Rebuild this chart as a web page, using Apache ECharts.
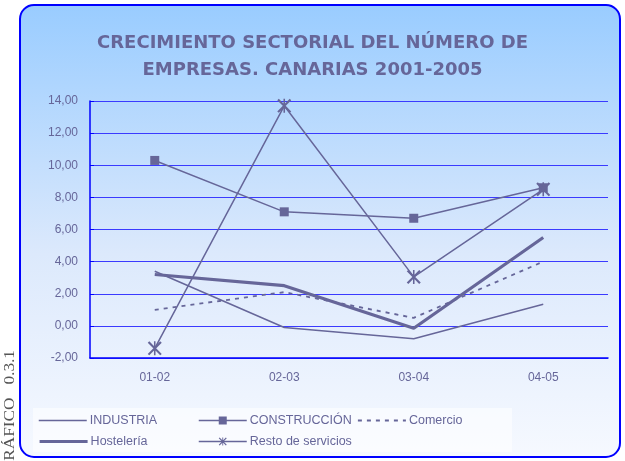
<!DOCTYPE html>
<html>
<head>
<meta charset="utf-8">
<script src="https://cdn.jsdelivr.net/npm/echarts@6/dist/echarts.min.js"></script>
<style>
  html, body { margin: 0; padding: 0; background: #fff; }
  #chart { width: 625px; height: 461px; }
</style>
</head>
<body>
<div id="chart"></div>
<script>
// datos del gráfico
const periodos = ['01-02', '02-03', '03-04', '04-05']
const industria = [3.4, -0.1, -0.8, 1.35]
const construccion = [10.3, 7.1, 6.7, 8.6]
const comercio = [1.0, 2.1, 0.5, 4.0]
const hosteleria = [3.2, 2.5, -0.15, 5.5]
const resto = [-1.4, 13.7, 3.05, 8.5]

const tinta = '#666699'
const azul = '#0000ff'
const asterisco = 'path://M9,0 L11,0 L11,20 L9,20 Z M1,2 L3,0 L19,18 L17,20 Z M17,0 L19,2 L3,20 L1,18 Z'

const chart = echarts.init(document.getElementById('chart'))

// una leyenda por elemento para poder colocarlas en columnas
// sinMarca: la serie no tiene símbolo, se oculta el círculo de la leyenda
const leyenda = (nombre, left, top, sinMarca, grosor) => ({
  data: [nombre],
  left: left,
  top: top,
  itemWidth: 48,
  itemHeight: 10,
  itemGap: 0,
  padding: 0,
  selectedMode: false,
  itemStyle: { color: tinta, opacity: sinMarca ? 0 : 1 },
  lineStyle: { color: tinta, width: grosor },
  textStyle: { color: tinta, fontSize: 12.5, fontFamily: 'Liberation Sans', padding: [0, 0, 0, -2] }
})

chart.setOption({
  animation: false,
  title: {
    text: 'CRECIMIENTO SECTORIAL DEL NÚMERO DE\nEMPRESAS. CANARIAS 2001-2005',
    left: 'center',
    top: 25,
    textStyle: {
      color: tinta,
      fontFamily: 'DejaVu Sans',
      fontWeight: 'bold',
      fontSize: 18,
      lineHeight: 27
    }
  },
  graphic: [
    {
      type: 'rect',
      z: -10,
      shape: { x: 20, y: 5, width: 600, height: 452, r: 14 },
      style: {
        fill: new echarts.graphic.LinearGradient(0, 0, 0, 1, [
          { offset: 0, color: '#99ccff' },
          { offset: 0.55, color: '#dce9fc' },
          { offset: 1, color: '#f6f9ff' }
        ]),
        stroke: azul,
        lineWidth: 2
      }
    },
    {
      type: 'rect',
      z: -5,
      shape: { x: 33, y: 408, width: 479, height: 44 },
      style: { fill: 'rgba(255,255,255,0.55)' }
    },
    {
      type: 'text',
      x: 10,
      y: 350,
      rotation: Math.PI / 2,
      scaleX: 1.15,
      style: {
        text: 'GRÁFICO   0.3.1',
        fill: '#555',
        font: '15px "Liberation Serif"',
        textAlign: 'right',
        textVerticalAlign: 'middle'
      }
    }
  ],
  legend: [
    leyenda('INDUSTRIA', 38, 414, true, 1.5),
    leyenda('CONSTRUCCIÓN', 198, 414, false, 1.5),
    leyenda('Comercio', 357, 414, true, 1.8),
    leyenda('Hostelería', 38, 435, true, 3.2),
    leyenda('Resto de servicios', 198, 435, false, 1.5)
  ],
  grid: { left: 90, right: 17, top: 101, bottom: 103 },
  xAxis: {
    type: 'category',
    data: periodos,
    boundaryGap: true,
    axisLine: { onZero: false, lineStyle: { color: azul, width: 1.5 } },
    axisTick: { lineStyle: { color: azul }, length: 5 },
    axisLabel: { color: tinta, fontSize: 12, fontFamily: 'Liberation Sans', margin: 14 }
  },
  yAxis: {
    type: 'value',
    min: -2,
    max: 14,
    interval: 2,
    axisLine: { show: true, lineStyle: { color: azul, width: 1.5 } },
    axisTick: { show: true, inside: true, length: 4, lineStyle: { color: azul } },
    splitLine: { lineStyle: { color: '#3a3aff', width: 1.2 } },
    axisLabel: {
      color: tinta,
      fontSize: 12,
      fontFamily: 'Liberation Sans',
      margin: 12,
      formatter: v => v.toFixed(2).replace('.', ',')
    }
  },
  series: [
    {
      name: 'INDUSTRIA', type: 'line', data: industria,
      symbol: 'none', lineStyle: { color: tinta, width: 1.5 }, itemStyle: { color: tinta }
    },
    {
      name: 'CONSTRUCCIÓN', type: 'line', data: construccion,
      symbol: 'rect', symbolSize: 9, lineStyle: { color: tinta, width: 1.5 }, itemStyle: { color: tinta }
    },
    {
      name: 'Comercio', type: 'line', data: comercio,
      symbol: 'none', lineStyle: { color: tinta, width: 1.8, type: [4, 5] }, itemStyle: { color: tinta }
    },
    {
      name: 'Hostelería', type: 'line', data: hosteleria,
      symbol: 'none', lineStyle: { color: tinta, width: 3.2 }, itemStyle: { color: tinta }
    },
    {
      name: 'Resto de servicios', type: 'line', data: resto,
      symbol: asterisco, symbolSize: 14, lineStyle: { color: tinta, width: 1.5 }, itemStyle: { color: tinta }
    }
  ]
})
</script>
</body>
</html>
